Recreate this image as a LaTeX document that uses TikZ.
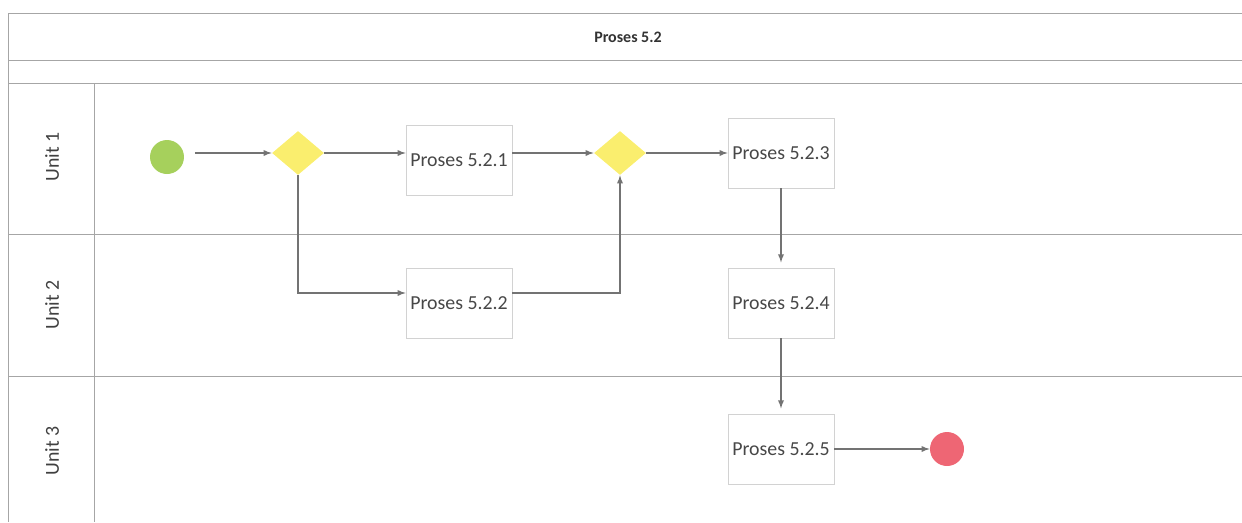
\documentclass[tikz,border=0pt]{standalone}
\usepackage{fontspec}
\setmainfont{Carlito}
\usetikzlibrary{positioning,shapes.geometric,arrows}
\definecolor{startgreen}{RGB}{166,208,92}
\definecolor{gateyellow}{RGB}{250,238,110}
\definecolor{endred}{RGB}{238,102,116}

\begin{document}
\begin{tikzpicture}[x=0.02cm,y=-0.02cm,inner sep=0.4mm,
  frame/.style={draw=gray!70,line width=0.5pt},
  flow/.style={draw=gray!90!black,line width=0.6pt,-latex},
  proc/.style={draw=gray!35,rectangle,minimum width=2.12cm,minimum height=1.4cm,text=black!72,font=\fontsize{11.3}{13}\selectfont},
  gate/.style={diamond,fill=gateyellow,draw=none,inner sep=0pt,minimum width=1.04cm,minimum height=0.88cm},
  startev/.style={circle,fill=startgreen,draw=none,minimum size=0.68cm,inner sep=0pt},
  endev/.style={circle,fill=endred,draw=none,minimum size=0.68cm,inner sep=0pt},
  lane/.style={rotate=90,text=black!75,font=\fontsize{11.3}{13}\selectfont}]
\useasboundingbox (0,0) rectangle (1242,522);

% lanes
\draw[frame] (1242,13) -- (8,13) -- (8,522);
\draw[frame] (8,60) -- (1242,60);
\draw[frame] (8,83) -- (1242,83);
\draw[frame] (8,234) -- (1242,234);
\draw[frame] (8,376) -- (1242,376);
\draw[frame] (94,83) -- (94,522);

\node[font=\bfseries\fontsize{9.1}{11}\selectfont,text=black!80] (title) at (628,37) {Proses 5.2};
\node[lane] (u1) at (52,157) {Unit 1};
\node[lane] (u2) at (52,305) {Unit 2};
\node[lane] (u3) at (52,451) {Unit 3};

% flow
\node[startev] (S) at (167,157) {};
\node[gate] (G1) at (298,153) {};
\node[proc] (P1) at (459,160) {Proses 5.2.1};
\node[gate] (G2) at (620,153) {};
\node[proc] (P3) at (781,153) {Proses 5.2.3};
\node[proc] (P2) at (459,303) {Proses 5.2.2};
\node[proc] (P4) at (781,303) {Proses 5.2.4};
\node[proc] (P5) at (781,449) {Proses 5.2.5};
\node[endev] (E) at (947,449) {};

\coordinate (K1) at (298,293);
\coordinate (K2) at (620,293);

\draw[flow,shorten <=6pt] (S.east |- G1) -- (G1);
\draw[flow] (G1) -- (P1.west |- G1);
\draw[flow] (P1.east |- G2) -- (G2);
\draw[flow] (G2) -- (P3);
\draw[flow] (G1.south) -- (K1) -- (P2.west |- K1);
\draw[flow] (P2.east |- K2) -- (K2) -- (G2.south);
\draw[flow,shorten >=3pt] (P3) -- (P4);
\draw[flow,shorten >=3pt] (P4) -- (P5);
\draw[flow] (P5) -- (E);
\end{tikzpicture}
\end{document}
